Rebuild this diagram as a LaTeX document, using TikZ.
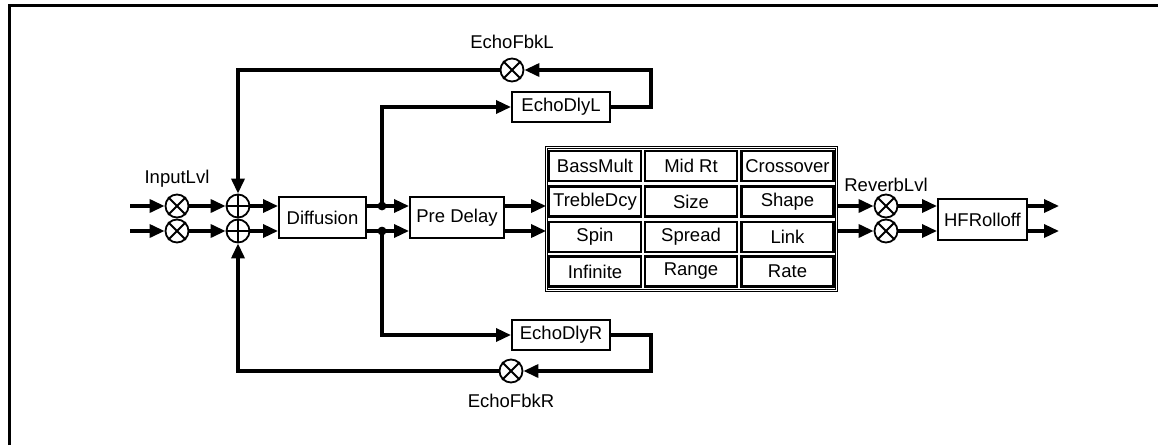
\documentclass[tikz,border=0pt]{standalone}
\usepackage{fontspec}
\setmainfont{Liberation Sans}
\usetikzlibrary{arrows.meta}
\begin{document}
\begin{tikzpicture}[x=1pt,y=-1pt,
  every node/.style={font=\fontsize{18.5}{21}\selectfont},
  sig/.style={line width=3.4pt,-{Triangle[length=15pt,width=13pt]}},
  blk/.style={draw,line width=2pt,inner sep=0pt,minimum height=41pt},
  cell/.style={draw,line width=2.1pt,inner sep=0pt,minimum width=92pt,minimum height=30pt},
  mul/.style={draw,circle,line width=1.8pt,minimum size=23pt,inner sep=0pt},
  jdot/.style={circle,fill=black,inner sep=0pt,minimum size=8.5pt},
  lbl/.style={anchor=base,inner sep=0pt},
  frame/.style={line width=2.8pt}
  ]
\useasboundingbox (0,0) rectangle (1158,445);
% outer frame (only top and left edges visible)
\coordinate (fa) at (9.5,445);
\coordinate (fb) at (9.5,5.5);
\coordinate (fc) at (1158,5.5);
\draw[frame] (fa) -- (fb) -- (fc);

% input multipliers
\coordinate (in1) at (130,206);
\coordinate (in2) at (130,231);
\node[mul] (m1) at (177,206) {};
\node[mul] (m2) at (177,231) {};
\node[lbl] (linput) at (177,183) {InputLvl};
% summers
\node[mul] (s1) at (238,206) {};
\node[mul] (s2) at (238,231) {};
% blocks
\node[blk,minimum width=87pt] (diff) at (322.5,217.5) {Diffusion};
\node[blk,minimum width=94pt] (pd) at (457,217.5) {Pre Delay};
\node[blk,minimum width=98pt,minimum height=30pt] (edl) at (561,107) {EchoDlyL};
\node[blk,minimum width=98pt,minimum height=30pt] (edr) at (561,335) {EchoDlyR};
\node[mul] (fbl) at (512,70) {};
\node[mul] (fbr) at (511,371) {};
\node[lbl] (lfbl) at (512,48) {EchoFbkL};
\node[lbl] (lfbr) at (511,407) {EchoFbkR};
\node[jdot] (j1) at (382,206) {};
\node[jdot] (j2) at (382,231) {};
\coordinate (cL) at (651,70);
\coordinate (cR) at (651,371);

% parameter matrix
\node[draw,double,line width=0.9pt,double distance=1.4pt,minimum width=290pt,minimum height=143pt,inner sep=0pt] (mat) at (691.5,219) {};
\node[cell] (c11) at (595,166) {BassMult};
\node[cell] (c12) at (691,166) {Mid Rt};
\node[cell] (c13) at (787.5,166) {Crossover};
\node[cell] (c21) at (595,201.5) {TrebleDcy};
\node[cell] (c22) at (691,201.5) {Size};
\node[cell] (c23) at (787.5,201.5) {Shape};
\node[cell] (c31) at (595,237) {Spin};
\node[cell] (c32) at (691,237) {Spread};
\node[cell] (c33) at (787.5,237) {Link};
\node[cell] (c41) at (595,271.5) {Infinite};
\node[cell] (c42) at (691,271.5) {Range};
\node[cell] (c43) at (787.5,271.5) {Rate};

% reverb level and HF rolloff
\node[mul] (r1) at (886,206) {};
\node[mul] (r2) at (886,231) {};
\node[lbl] (lrev) at (886,191) {ReverbLvl};
\node[blk,minimum width=89pt] (hf) at (982.5,219.5) {HFRolloff};
\coordinate (o1) at (1059,206);
\coordinate (o2) at (1059,231);

% crosses and plus signs
\foreach \m in {m1,m2,fbl,fbr,r1,r2}{
  \draw[line width=1.8pt] (\m.north east) -- (\m.south west);
  \draw[line width=1.8pt] (\m.north west) -- (\m.south east);
}
\foreach \s in {s1,s2}{
  \draw[line width=1.8pt] (\s.north) -- (\s.south);
  \draw[line width=1.8pt] (\s.west) -- (\s.east);
}

% connectors
\draw[sig] (in1) -- (m1.west);
\draw[sig] (in2) -- (m2.west);
\draw[sig] (m1.east) -- (s1.west);
\draw[sig] (m2.east) -- (s2.west);
\draw[sig] (s1.east) -- (diff.west |- s1);
\draw[sig] (s2.east) -- (diff.west |- s2);
\draw[sig] (diff.east |- j1) -- (pd.west |- j1);
\draw[sig] (diff.east |- j2) -- (pd.west |- j2);
\draw[sig] (j1.center) |- (edl.west);
\draw[sig] (j2.center) |- (edr.west);
\draw[sig] (edl.east) -| (cL) -- (fbl.east);
\draw[sig] (edr.east) -| (cR) -- (fbr.east);
\draw[sig] (fbl.west) -| (s1.north);
\draw[sig] (fbr.west) -| (s2.south);
\node[jdot] at (j1) {};
\node[jdot] at (j2) {};
\draw[sig] (pd.east |- j1) -- (mat.west |- j1);
\draw[sig] (pd.east |- j2) -- (mat.west |- j2);
\draw[sig] (mat.east |- r1) -- (r1.west);
\draw[sig] (mat.east |- r2) -- (r2.west);
\draw[sig] (r1.east) -- (hf.west |- r1);
\draw[sig] (r2.east) -- (hf.west |- r2);
\draw[sig] (hf.east |- o1) -- (o1);
\draw[sig] (hf.east |- o2) -- (o2);
\end{tikzpicture}
\end{document}
